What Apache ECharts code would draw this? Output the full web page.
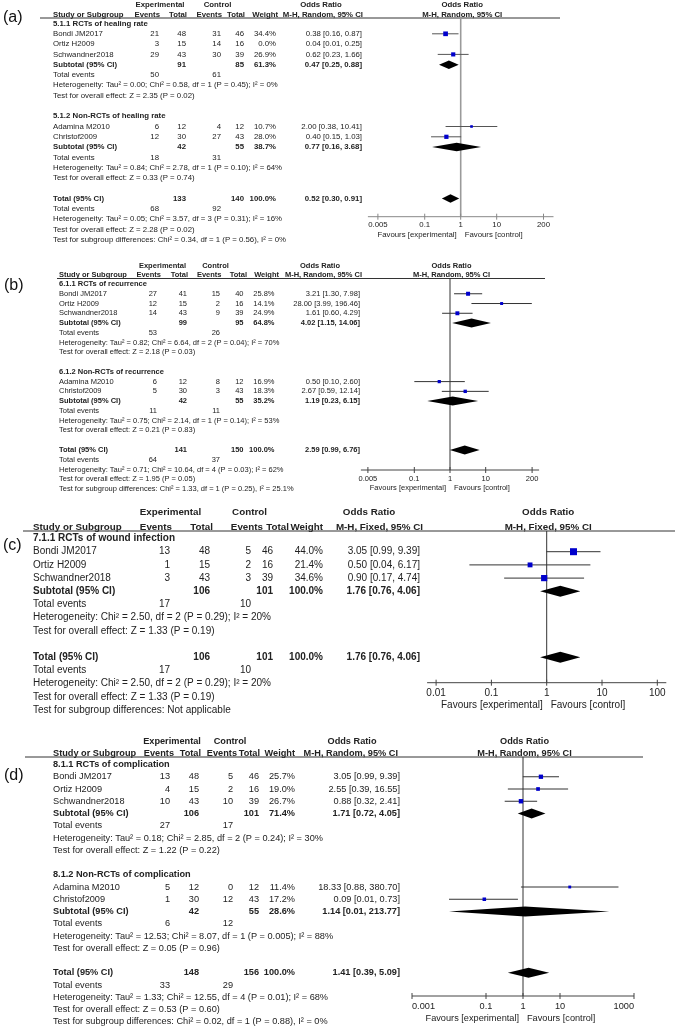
<!DOCTYPE html>
<html><head><meta charset="utf-8">
<script src="https://cdn.jsdelivr.net/npm/echarts@6/dist/echarts.min.js"></script>
<style>html,body{margin:0;padding:0;background:#fff}#c{width:677px;height:1029px}</style>
</head><body><div id="c"></div>
<script>
// ======================= DATA =======================
const studyNames5 = ['Bondi JM2017', 'Ortiz H2009', 'Schwandner2018', 'Adamina M2010', 'Christof2009'];
const studyNames3 = ['Bondi JM2017', 'Ortiz H2009', 'Schwandner2018'];
const colHeaders = ['Events', 'Total', 'Events', 'Total', 'Weight'];

// ---- Panel (a): healing rate ----
const aGroups = ['5.1.1 RCTs of healing rate', '5.1.2 Non-RCTs of healing rate'];
const aStudyGroup = [0, 0, 0, 1, 1];
const aExpEvents = [21, 3, 29, 6, 12];
const aExpTotal = [48, 15, 43, 12, 30];
const aCtlEvents = [31, 14, 30, 4, 27];
const aCtlTotal = [46, 16, 39, 12, 43];
const aWeight = [34.4, 0.0, 26.9, 10.7, 28.0];
const aOR = [0.38, 0.04, 0.62, 2.00, 0.40];
const aLow = [0.16, 0.01, 0.23, 0.38, 0.15];
const aHigh = [0.87, 0.25, 1.66, 10.41, 1.03];
const aSubExpTotal = [91, 42];
const aSubCtlTotal = [85, 55];
const aSubWeight = [61.3, 38.7];
const aSubOR = [0.47, 0.77];
const aSubLow = [0.25, 0.16];
const aSubHigh = [0.88, 3.68];
const aSubExpEvents = [50, 18];
const aSubCtlEvents = [61, 31];
const aSubHet = ['Tau² = 0.00; Chi² = 0.58, df = 1 (P = 0.45); I² = 0%', 'Tau² = 0.84; Chi² = 2.78, df = 1 (P = 0.10); I² = 64%'];
const aSubZ = ['Z = 2.35 (P = 0.02)', 'Z = 0.33 (P = 0.74)'];
const aTotal = [133, 140, 100.0, 0.52, 0.30, 0.91];
const aTotalEvents = [68, 92];
const aTotalHet = 'Tau² = 0.05; Chi² = 3.57, df = 3 (P = 0.31); I² = 16%';
const aTotalZ = 'Z = 2.28 (P = 0.02)';
const aSubgroupTest = 'Chi² = 0.34, df = 1 (P = 0.56), I² = 0%';
const aTicks = [0.005, 0.1, 1, 10, 200];
const aTickLabels = ['0.005', '0.1', '1', '10', '200'];
const aMethod = 'M-H, Random, 95% CI';

// ---- Panel (b): recurrence ----
const bGroups = ['6.1.1 RCTs of recurrence', '6.1.2 Non-RCTs of recurrence'];
const bStudyGroup = [0, 0, 0, 1, 1];
const bExpEvents = [27, 12, 14, 6, 5];
const bExpTotal = [41, 15, 43, 12, 30];
const bCtlEvents = [15, 2, 9, 8, 3];
const bCtlTotal = [40, 16, 39, 12, 43];
const bWeight = [25.8, 14.1, 24.9, 16.9, 18.3];
const bOR = [3.21, 28.00, 1.61, 0.50, 2.67];
const bLow = [1.30, 3.99, 0.60, 0.10, 0.59];
const bHigh = [7.98, 196.46, 4.29, 2.60, 12.14];
const bSubExpTotal = [99, 42];
const bSubCtlTotal = [95, 55];
const bSubWeight = [64.8, 35.2];
const bSubOR = [4.02, 1.19];
const bSubLow = [1.15, 0.23];
const bSubHigh = [14.06, 6.15];
const bSubExpEvents = [53, 11];
const bSubCtlEvents = [26, 11];
const bSubHet = ['Tau² = 0.82; Chi² = 6.64, df = 2 (P = 0.04); I² = 70%', 'Tau² = 0.75; Chi² = 2.14, df = 1 (P = 0.14); I² = 53%'];
const bSubZ = ['Z = 2.18 (P = 0.03)', 'Z = 0.21 (P = 0.83)'];
const bTotal = [141, 150, 100.0, 2.59, 0.99, 6.76];
const bTotalEvents = [64, 37];
const bTotalHet = 'Tau² = 0.71; Chi² = 10.64, df = 4 (P = 0.03); I² = 62%';
const bTotalZ = 'Z = 1.95 (P = 0.05)';
const bSubgroupTest = 'Chi² = 1.33, df = 1 (P = 0.25), I² = 25.1%';
const bTicks = [0.005, 0.1, 1, 10, 200];
const bTickLabels = ['0.005', '0.1', '1', '10', '200'];
const bMethod = 'M-H, Random, 95% CI';

// ---- Panel (c): wound infection ----
const cGroups = ['7.1.1 RCTs of wound infection'];
const cStudyGroup = [0, 0, 0];
const cExpEvents = [13, 1, 3];
const cExpTotal = [48, 15, 43];
const cCtlEvents = [5, 2, 3];
const cCtlTotal = [46, 16, 39];
const cWeight = [44.0, 21.4, 34.6];
const cOR = [3.05, 0.50, 0.90];
const cLow = [0.99, 0.04, 0.17];
const cHigh = [9.39, 6.17, 4.74];
const cSubExpTotal = [106];
const cSubCtlTotal = [101];
const cSubWeight = [100.0];
const cSubOR = [1.76];
const cSubLow = [0.76];
const cSubHigh = [4.06];
const cSubExpEvents = [17];
const cSubCtlEvents = [10];
const cSubHet = ['Chi² = 2.50, df = 2 (P = 0.29); I² = 20%'];
const cSubZ = ['Z = 1.33 (P = 0.19)'];
const cTotal = [106, 101, 100.0, 1.76, 0.76, 4.06];
const cTotalEvents = [17, 10];
const cTotalHet = 'Chi² = 2.50, df = 2 (P = 0.29); I² = 20%';
const cTotalZ = 'Z = 1.33 (P = 0.19)';
const cSubgroupTest = 'Not applicable';
const cTicks = [0.01, 0.1, 1, 10, 100];
const cTickLabels = ['0.01', '0.1', '1', '10', '100'];
const cMethod = 'M-H, Fixed, 95% CI';

// ---- Panel (d): complication ----
const dGroups = ['8.1.1 RCTs of complication', '8.1.2 Non-RCTs of complication'];
const dStudyGroup = [0, 0, 0, 1, 1];
const dExpEvents = [13, 4, 10, 5, 1];
const dExpTotal = [48, 15, 43, 12, 30];
const dCtlEvents = [5, 2, 10, 0, 12];
const dCtlTotal = [46, 16, 39, 12, 43];
const dWeight = [25.7, 19.0, 26.7, 11.4, 17.2];
const dOR = [3.05, 2.55, 0.88, 18.33, 0.09];
const dLow = [0.99, 0.39, 0.32, 0.88, 0.01];
const dHigh = [9.39, 16.55, 2.41, 380.70, 0.73];
const dSubExpTotal = [106, 42];
const dSubCtlTotal = [101, 55];
const dSubWeight = [71.4, 28.6];
const dSubOR = [1.71, 1.14];
const dSubLow = [0.72, 0.01];
const dSubHigh = [4.05, 213.77];
const dSubExpEvents = [27, 6];
const dSubCtlEvents = [17, 12];
const dSubHet = ['Tau² = 0.18; Chi² = 2.85, df = 2 (P = 0.24); I² = 30%', 'Tau² = 12.53; Chi² = 8.07, df = 1 (P = 0.005); I² = 88%'];
const dSubZ = ['Z = 1.22 (P = 0.22)', 'Z = 0.05 (P = 0.96)'];
const dTotal = [148, 156, 100.0, 1.41, 0.39, 5.09];
const dTotalEvents = [33, 29];
const dTotalHet = 'Tau² = 1.33; Chi² = 12.55, df = 4 (P = 0.01); I² = 68%';
const dTotalZ = 'Z = 0.53 (P = 0.60)';
const dSubgroupTest = 'Chi² = 0.02, df = 1 (P = 0.88), I² = 0%';
const dTicks = [0.001, 0.1, 1, 10, 1000];
const dTickLabels = ['0.001', '0.1', '1', '10', '1000'];
const dMethod = 'M-H, Random, 95% CI';

// ======================= LAYOUT (pixels) =======================
const LA = {label:'(a)', labelX:3, labelY:17.5, font:7.8, y0:23.5, dy:10.3, h1Y:5, h2Y:15, lineY:18, lineX0:40, lineX1:560,
  studyX:53, colR:[159,186,221,244,276,362], hdrR:[160,187,222,245,278,363], expC:160, ctlC:217.5, orC:321,
  xL:377.9, xR:543.5, axisY:216.7, axisExt:10, tickLabY:224.5, favY:234.5, sqK:0.8, diaH:8.5,
  refColor:'#9a9a9a', refW:1.6, axisColor:'#888', ciColor:'#555', edgeAlign:false};
const LB = {label:'(b)', labelX:4, labelY:286, font:7.5, y0:284, dy:9.76, h1Y:266, h2Y:275, lineY:278.5, lineX0:57, lineX1:545,
  studyX:59, colR:[157,187,220,243.5,274.5,360], hdrR:[161,188,221.5,247,279,362], expC:162.5, ctlC:215.5, orC:320,
  xL:367.9, xR:532.1, axisY:470, axisExt:7, tickLabY:479, favY:487.5, sqK:0.79, diaH:9,
  refColor:'#333', refW:1, axisColor:'#444', ciColor:'#333', edgeAlign:false};
const LC = {label:'(c)', labelX:3, labelY:546, font:10, hfont:9.8, y0:538.5, dy:13.2, h1Y:512.5, h2Y:527.5, lineY:531, lineX0:23, lineX1:675,
  studyX:33, colR:[170,210,251,273,323,420], hdrR:[172,213,263,289,323,423], expC:170.5, ctlC:249.5, orC:369,
  xL:436.1, xR:657.3, axisY:682.7, axisExt:9, tickLabY:693.5, favY:705, sqK:1.055, diaH:11,
  refColor:'#333', refW:1, axisColor:'#444', ciColor:'#333', edgeAlign:false};
const LD = {label:'(d)', labelX:4, labelY:776, font:9.2, y0:764.5, dy:12.25, h1Y:741.5, h2Y:753.3, lineY:757, lineX0:25, lineX1:643,
  studyX:53, colR:[170,199,233,259,295,400], hdrR:[174,201,237,260,295,398], expC:172, ctlC:230, orC:352,
  xL:412, xR:634, axisY:996, axisExt:0, tickLabY:1006.7, favY:1018.3, sqK:0.85, diaH:10,
  refColor:'#333', refW:1, axisColor:'#444', ciColor:'#333', edgeAlign:true};

// ======================= BUILD =======================
const FONT = '"Liberation Sans", Arial, Helvetica, sans-serif';
const TXT = '#222';
const fnt = (s, b) => (b ? 'bold ' : '') + s + 'px ' + FONT;
const f2 = v => v.toFixed(2);
const fCI = (o, l, h) => f2(o) + ' [' + f2(l) + ', ' + f2(h) + ']';
const fW = w => w.toFixed(1) + '%';
function T(text, x, y, align, font, fill) {
  return {type:'text', style:{text:text, x:x, y:y, font:font, fill:fill || TXT,
    textAlign:align, align:align, textVerticalAlign:'middle', verticalAlign:'middle'}};
}

function panel(p) { return p; }
const PA = panel({studies:studyNames5, groups:aGroups, studyGroup:aStudyGroup, expEv:aExpEvents, expTot:aExpTotal, ctlEv:aCtlEvents, ctlTot:aCtlTotal,
  weight:aWeight, or:aOR, lo:aLow, hi:aHigh, subExpTot:aSubExpTotal, subCtlTot:aSubCtlTotal, subWeight:aSubWeight, subOR:aSubOR, subLo:aSubLow, subHi:aSubHigh,
  subExpEv:aSubExpEvents, subCtlEv:aSubCtlEvents, subHet:aSubHet, subZ:aSubZ, tot:aTotal, totEv:aTotalEvents, totHet:aTotalHet, totZ:aTotalZ,
  subTest:aSubgroupTest, ticks:aTicks, tickLabels:aTickLabels, method:aMethod});
const PB = panel({studies:studyNames5, groups:bGroups, studyGroup:bStudyGroup, expEv:bExpEvents, expTot:bExpTotal, ctlEv:bCtlEvents, ctlTot:bCtlTotal,
  weight:bWeight, or:bOR, lo:bLow, hi:bHigh, subExpTot:bSubExpTotal, subCtlTot:bSubCtlTotal, subWeight:bSubWeight, subOR:bSubOR, subLo:bSubLow, subHi:bSubHigh,
  subExpEv:bSubExpEvents, subCtlEv:bSubCtlEvents, subHet:bSubHet, subZ:bSubZ, tot:bTotal, totEv:bTotalEvents, totHet:bTotalHet, totZ:bTotalZ,
  subTest:bSubgroupTest, ticks:bTicks, tickLabels:bTickLabels, method:bMethod});
const PC = panel({studies:studyNames3, groups:cGroups, studyGroup:cStudyGroup, expEv:cExpEvents, expTot:cExpTotal, ctlEv:cCtlEvents, ctlTot:cCtlTotal,
  weight:cWeight, or:cOR, lo:cLow, hi:cHigh, subExpTot:cSubExpTotal, subCtlTot:cSubCtlTotal, subWeight:cSubWeight, subOR:cSubOR, subLo:cSubLow, subHi:cSubHigh,
  subExpEv:cSubExpEvents, subCtlEv:cSubCtlEvents, subHet:cSubHet, subZ:cSubZ, tot:cTotal, totEv:cTotalEvents, totHet:cTotalHet, totZ:cTotalZ,
  subTest:cSubgroupTest, ticks:cTicks, tickLabels:cTickLabels, method:cMethod});
const PD = panel({studies:studyNames5, groups:dGroups, studyGroup:dStudyGroup, expEv:dExpEvents, expTot:dExpTotal, ctlEv:dCtlEvents, ctlTot:dCtlTotal,
  weight:dWeight, or:dOR, lo:dLow, hi:dHigh, subExpTot:dSubExpTotal, subCtlTot:dSubCtlTotal, subWeight:dSubWeight, subOR:dSubOR, subLo:dSubLow, subHi:dSubHigh,
  subExpEv:dSubExpEvents, subCtlEv:dSubCtlEvents, subHet:dSubHet, subZ:dSubZ, tot:dTotal, totEv:dTotalEvents, totHet:dTotalHet, totZ:dTotalZ,
  subTest:dSubgroupTest, ticks:dTicks, tickLabels:dTickLabels, method:dMethod});

function makeRows(P) {
  const rows = [];
  P.groups.forEach((g, k) => {
    rows.push({name:g, bold:true});
    P.studies.forEach((s, i) => {
      if (P.studyGroup[i] !== k) return;
      rows.push({name:s, cells:[P.expEv[i], P.expTot[i], P.ctlEv[i], P.ctlTot[i], fW(P.weight[i]), fCI(P.or[i], P.lo[i], P.hi[i])],
        mark: P.weight[i] > 0 ? [P.or[i], P.lo[i], P.hi[i], P.weight[i], 0] : null});
    });
    rows.push({name:'Subtotal (95% CI)', bold:true, cells:['', P.subExpTot[k], '', P.subCtlTot[k], fW(P.subWeight[k]), fCI(P.subOR[k], P.subLo[k], P.subHi[k])],
      mark:[P.subOR[k], P.subLo[k], P.subHi[k], 0, 1]});
    rows.push({name:'Total events', cells:[P.subExpEv[k], '', P.subCtlEv[k], '', '', '']});
    rows.push({name:'Heterogeneity: ' + P.subHet[k]});
    rows.push({name:'Test for overall effect: ' + P.subZ[k]});
    rows.push({name:''});
  });
  rows.push({name:'Total (95% CI)', bold:true, cells:['', P.tot[0], '', P.tot[1], fW(P.tot[2]), fCI(P.tot[3], P.tot[4], P.tot[5])],
    mark:[P.tot[3], P.tot[4], P.tot[5], 0, 1]});
  rows.push({name:'Total events', cells:[P.totEv[0], '', P.totEv[1], '', '', '']});
  rows.push({name:'Heterogeneity: ' + P.totHet});
  rows.push({name:'Test for overall effect: ' + P.totZ});
  rows.push({name:'Test for subgroup differences: ' + P.subTest});
  return rows;
}

const option = {animation:false, backgroundColor:'#fff', grid:[], xAxis:[], yAxis:[], series:[], graphic:[]};

[[PA, LA], [PB, LB], [PC, LC], [PD, LD]].forEach(([P, L], gi) => {
  const rows = makeRows(P);
  option.grid.push({left:L.xL, top:L.lineY, width:L.xR - L.xL, height:L.axisY - L.lineY});
  option.xAxis.push({type:'log', logBase:10, gridIndex:gi, min:P.ticks[0], max:P.ticks[P.ticks.length - 1], show:false});
  option.yAxis.push({type:'value', gridIndex:gi, inverse:true, min:(L.lineY - L.y0) / L.dy, max:(L.axisY - L.y0) / L.dy, show:false});

  // header texts and line
  const hb = fnt(L.hfont || L.font, true);
  const plotC = (L.xL + L.xR) / 2 + 1.5;
  const g = option.graphic;
  g.push(T(L.label, L.labelX, L.labelY, 'left', '16px ' + FONT, '#111'));
  g.push(T('Experimental', L.expC, L.h1Y, 'center', hb));
  g.push(T('Control', L.ctlC, L.h1Y, 'center', hb));
  g.push(T('Odds Ratio', L.orC, L.h1Y, 'center', hb));
  g.push(T('Odds Ratio', plotC, L.h1Y, 'center', hb));
  g.push(T('Study or Subgroup', L.studyX, L.h2Y, 'left', hb));
  colHeaders.forEach((h, j) => g.push(T(h, L.hdrR[j], L.h2Y, 'right', hb)));
  g.push(T(P.method, L.hdrR[5], L.h2Y, 'right', hb));
  g.push(T(P.method, plotC, L.h2Y, 'center', hb));
  g.push({type:'line', shape:{x1:L.lineX0, y1:L.lineY, x2:L.lineX1, y2:L.lineY}, style:{stroke:'#333', lineWidth:1}});

  // table rows
  option.series.push({
    type:'custom', coordinateSystem:'cartesian2d', xAxisIndex:gi, yAxisIndex:gi, clip:false, silent:true,
    data: rows.map((r, i) => [1, i]),
    renderItem: (params, api) => {
      const r = rows[params.dataIndex];
      const y = api.coord([1, api.value(1)])[1];
      const ft = fnt(L.font, r.bold);
      const ch = [];
      if (r.name) ch.push(T(r.name, L.studyX, y, 'left', ft));
      if (r.cells) r.cells.forEach((c, j) => { if (c !== '') ch.push(T(String(c), L.colR[j], y, 'right', ft)); });
      return {type:'group', children:ch};
    }
  });

  // axis, reference line, favours labels
  option.series.push({
    type:'custom', coordinateSystem:'cartesian2d', xAxisIndex:gi, yAxisIndex:gi, clip:false, silent:true,
    data: P.ticks.map(t => [t, 0]),
    renderItem: (params, api) => {
      const cs = params.coordSys;
      const yb = cs.y + cs.height;
      const x = api.coord([api.value(0), 0])[0];
      const n = P.ticks.length;
      let al = 'center';
      if (L.edgeAlign && params.dataIndex === 0) al = 'left';
      if (L.edgeAlign && params.dataIndex === n - 1) al = 'right';
      const ch = [
        {type:'line', shape:{x1:x, y1:yb - 3, x2:x, y2:yb + 3}, style:{stroke:L.axisColor, lineWidth:1}},
        T(P.tickLabels[params.dataIndex], x, L.tickLabY, al, fnt(L.font, false))
      ];
      if (params.dataIndex === 0) {
        const x1 = api.coord([1, 0])[0];
        ch.push({type:'line', shape:{x1:cs.x - L.axisExt, y1:yb, x2:cs.x + cs.width + L.axisExt, y2:yb}, style:{stroke:L.axisColor, lineWidth:1}});
        ch.push({type:'line', shape:{x1:x1, y1:cs.y, x2:x1, y2:yb}, style:{stroke:L.refColor, lineWidth:L.refW}});
        ch.push(T('Favours [experimental]', x1 - 4, L.favY, 'right', fnt(L.font, false)));
        ch.push(T('Favours [control]', x1 + 4, L.favY, 'left', fnt(L.font, false)));
      }
      return {type:'group', children:ch};
    }
  });

  // study squares + CIs, pooled diamonds
  option.series.push({
    type:'custom', coordinateSystem:'cartesian2d', xAxisIndex:gi, yAxisIndex:gi, clip:false, silent:true, z:5,
    encode:{x:[0, 1, 2], y:3},
    data: rows.map((r, i) => r.mark ? [r.mark[0], r.mark[1], r.mark[2], i, r.mark[3], r.mark[4]] : null).filter(Boolean),
    renderItem: (params, api) => {
      const row = api.value(3);
      const c = api.coord([api.value(0), row]);
      const lo = api.coord([api.value(1), row]);
      const hi = api.coord([api.value(2), row]);
      if (api.value(5) === 1) {
        const h = L.diaH / 2;
        return {type:'polygon', shape:{points:[[lo[0], c[1]], [c[0], c[1] - h], [hi[0], c[1]], [c[0], c[1] + h]]}, style:{fill:'#000'}};
      }
      const s = L.sqK * Math.sqrt(api.value(4));
      return {type:'group', children:[
        {type:'line', shape:{x1:lo[0], y1:c[1], x2:hi[0], y2:c[1]}, style:{stroke:L.ciColor, lineWidth:1}},
        {type:'rect', shape:{x:c[0] - s / 2, y:c[1] - s / 2, width:s, height:s}, style:{fill:'#0000cc'}}
      ]};
    }
  });
});

const chart = echarts.init(document.getElementById('c'), null, {renderer:'canvas'});
chart.setOption(option);
</script>
</body></html>
